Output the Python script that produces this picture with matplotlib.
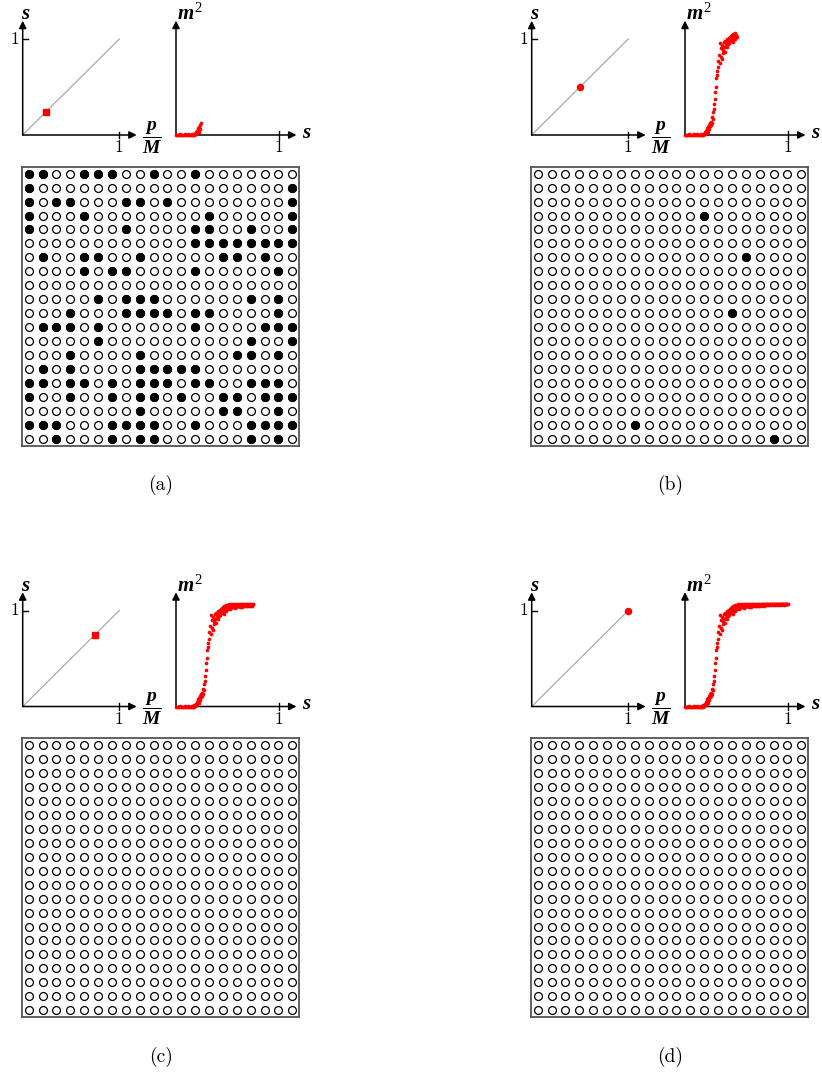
import numpy as np
import matplotlib.pyplot as plt

plt.rcParams['mathtext.fontset'] = 'custom'
plt.rcParams['mathtext.it'] = 'Liberation Serif:italic:bold'
plt.rcParams['mathtext.rm'] = 'Liberation Serif'
plt.rcParams['mathtext.bf'] = 'Liberation Serif:bold'

W, H = 822, 1072

# current value of s (= p/M) in each panel
s_now = [0.24, 0.50, 0.75, 1.00]
dot_marker = ['s', 'o', 's', 'o']
panel_labels = ['(a)', '(b)', '(c)', '(d)']

# m^2 versus s (the other panels show the part s <= s_now)
s_pts = [0.00, 0.01, 0.02, 0.03, 0.04, 0.05, 0.06, 0.07, 0.08, 0.09,
         0.10, 0.11, 0.12, 0.13, 0.14,
         0.150, 0.155, 0.160, 0.165, 0.170, 0.175, 0.180, 0.185, 0.190, 0.195,
         0.200, 0.205, 0.210, 0.215, 0.220, 0.225, 0.230, 0.235, 0.240, 0.245,
         0.250, 0.255, 0.260, 0.265, 0.270, 0.275, 0.280, 0.285, 0.290, 0.295,
         0.300, 0.305, 0.310, 0.315, 0.320, 0.325, 0.330, 0.335, 0.340, 0.345,
         0.350, 0.355, 0.360, 0.365, 0.370, 0.375, 0.380, 0.385, 0.390, 0.395,
         0.400, 0.405, 0.410, 0.415, 0.420, 0.425, 0.430, 0.435, 0.440, 0.445,
         0.450, 0.455, 0.460, 0.465, 0.470, 0.475, 0.480, 0.485, 0.490, 0.495,
         0.500, 0.505, 0.510, 0.515, 0.520, 0.525, 0.530, 0.535, 0.540, 0.545,
         0.550, 0.555, 0.560, 0.565, 0.570, 0.575, 0.580, 0.585, 0.590, 0.595,
         0.600, 0.605, 0.610, 0.615, 0.620, 0.625, 0.630, 0.635, 0.640, 0.645,
         0.650, 0.655, 0.660, 0.665, 0.670, 0.675, 0.680, 0.685, 0.690, 0.695,
         0.700, 0.705, 0.710, 0.715, 0.720, 0.725, 0.730, 0.735, 0.740, 0.745,
         0.750, 0.755, 0.760, 0.765, 0.770, 0.775, 0.780, 0.785, 0.790, 0.795,
         0.800, 0.805, 0.810, 0.815, 0.820, 0.825, 0.830, 0.835, 0.840, 0.845,
         0.850, 0.855, 0.860, 0.865, 0.870, 0.875, 0.880, 0.885, 0.890, 0.895,
         0.900, 0.905, 0.910, 0.915, 0.920, 0.925, 0.930, 0.935, 0.940, 0.945,
         0.950, 0.955, 0.960, 0.965, 0.970, 0.975, 0.980, 0.985, 0.990, 0.995, 1.000]
m2_pts = [0, 0, 0, 0, 0.005, 0, 0, 0, 0, 0.005,
          0, 0, 0.005, 0, 0,
          0, 0.005, 0, 0, 0.01, 0, 0.005, 0.01, 0.025, 0.01,
          0.04, 0.02, 0.05, 0.07, 0.03, 0.08, 0.10, 0.06, 0.12, 0.09,
          0.13, 0.10, 0.17, 0.12, 0.22, 0.16, 0.30, 0.25, 0.42, 0.35,
          0.55, 0.47, 0.62, 0.58, 0.72, 0.66, 0.78, 0.70, 0.89, 0.76,
          0.84, 0.74, 0.87, 0.80, 0.83, 0.90, 0.85, 0.81, 0.91, 0.86,
          0.89, 0.93, 0.85, 0.92, 0.88, 0.94, 0.89, 0.95, 0.91, 0.96,
          0.92, 0.97, 0.94, 0.90, 0.98, 0.93, 0.96, 0.99, 0.93, 0.97,
          0.95, 0.99, 0.96, 1.00, 0.95, 0.98, 1.00, 0.96, 0.99, 0.97,
          0.99, 1.00, 0.97, 0.99, 0.96, 1.00, 0.99, 0.97, 1.00, 0.98,
          0.98, 0.99, 1.00, 0.98, 0.97, 1.00, 0.99, 0.98, 1.00, 0.97,
          1.00, 0.99, 0.98, 1.00, 0.99, 0.98, 1.00, 0.98, 1.00, 0.99,
          0.99, 1.00, 0.98, 0.98, 1.00, 0.99, 1.00, 0.99, 0.98, 1.00,
          1.00, 0.99, 1.00, 0.98, 1.00, 1.00, 0.99, 1.00, 0.99, 1.00,
          1.00, 0.99, 1.00, 1.00, 0.99, 1.00, 1.00, 0.99, 1.00, 1.00,
          0.99, 1.00, 1.00, 1.00, 0.99, 1.00, 1.00, 1.00, 0.99, 1.00,
          1.00, 1.00, 0.99, 1.00, 1.00, 1.00, 1.00, 0.99, 1.00, 1.00,
          1.00, 1.00, 1.00, 0.99, 1.00, 1.00, 1.00, 1.00, 1.00, 1.00, 1.00]

# 20x20 lattice, 1 = filled site
grid_a = ["11001110010010000000",
          "10000000000000000001",
          "10110001101000000001",
          "10001000000001000001",
          "10000001000011001001",
          "00000000000011111111",
          "01001100100000110100",
          "00001011000010000010",
          "00000000000000000000",
          "00000101110000001010",
          "00010001111011000010",
          "01110100000010000111",
          "00000100000000001001",
          "00010000100000011010",
          "01010000111110000000",
          "11011010111011001110",
          "10010010110100110111",
          "00000000100000110010",
          "11100011110010001111",
          "00100010110000001010"]
grid_b_rows = [4, 7, 11, 19, 20]
grid_b_cols = [13, 16, 15, 8, 18]

rows_a, cols_a = [], []
for r, line in enumerate(grid_a):
    for c, ch in enumerate(line):
        if ch == '1':
            rows_a.append(r + 1)
            cols_a.append(c + 1)
filled = [(rows_a, cols_a), (grid_b_rows, grid_b_cols), ([], []), ([], [])]

fig = plt.figure(figsize=(W / 100, H / 100), dpi=100)


def px_axes(x0, y0, x1, y1):
    ax = fig.add_axes([x0 / W, 1 - y1 / H, (x1 - x0) / W, (y1 - y0) / H])
    return ax


def arrow(ax, x, y):
    ax.annotate('', xy=(x, y), xytext=(0, 0),
                arrowprops=dict(arrowstyle='-|>', color='k', lw=1.1,
                                mutation_scale=11, shrinkA=0, shrinkB=0),
                annotation_clip=False)


offx = [0, 509, 0, 509]
offy = [0, 0, 571.5, 571.5]

for k in range(4):
    dx, dy = offx[k], offy[k]

    # s versus p/M
    ox, oy = 22.7 + dx, 135 + dy
    ax = px_axes(ox, oy - 96, ox + 96.6, oy)
    ax.set_xlim(0, 1)
    ax.set_ylim(0, 1)
    ax.axis('off')
    ax.plot([0, 1], [0, 1], color='#aaaaaa', lw=0.9, clip_on=False)
    arrow(ax, 1.18, 0)
    arrow(ax, 0, 1.19)
    ax.plot([1, 1], [-0.035, 0.035], color='k', lw=1, clip_on=False)
    ax.plot([0, 0.05], [1, 1], color='k', lw=1, clip_on=False)
    ax.text(-0.08, 1.0, '1', fontfamily='cmr10', fontsize=12.5, ha='center', va='center')
    ax.text(0.99, -0.13, '1', fontfamily='cmr10', fontsize=12.5, ha='center', va='center')
    ax.text(0.03, 1.27, '$s$', fontsize=15, ha='center', va='center')
    ax.text(1.34, -0.03, r'$\dfrac{p}{M}$', fontsize=14, ha='center', va='center')
    ax.plot([s_now[k]], [s_now[k]], marker=dot_marker[k], color='red',
            markersize=4.4, clip_on=False, zorder=5)

    # m^2 versus s
    ox, oy = 176 + dx, 135 + dy
    ax = px_axes(ox, oy - 103, ox + 103, oy)
    ax.set_xlim(0, 1)
    ax.set_ylim(0, 1)
    ax.axis('off')
    arrow(ax, 1.17, 0)
    arrow(ax, 0, 1.11)
    ax.plot([1, 1], [-0.035, 0.035], color='k', lw=1, clip_on=False)
    ax.text(1.0, -0.12, '1', fontfamily='cmr10', fontsize=12.5, ha='center', va='center')
    ax.text(1.27, 0.03, '$s$', fontsize=15, ha='center', va='center')
    ax.text(0.13, 1.18, '$m^2$', fontsize=15, ha='center', va='center')
    s_arr = np.array(s_pts)
    m_arr = np.array(m2_pts)
    keep = s_arr <= s_now[k] + 1e-9
    ax.scatter(s_arr[keep], m_arr[keep], s=7, color='red', linewidths=0,
               clip_on=False, zorder=4)

    # lattice
    ax = px_axes(21.7 + dx, 166.7 + dy, 299.3 + dx, 445.7 + dy)
    ax.set_xlim(0.5, 20.5)
    ax.set_ylim(20.5, 0.5)
    ax.set_xticks([])
    ax.set_yticks([])
    for sp in ax.spines.values():
        sp.set_color('#555555')
        sp.set_linewidth(1.3)
    cc, rr = np.meshgrid(np.arange(1, 21), np.arange(1, 21))
    ax.scatter(cc.ravel(), rr.ravel(), s=32, facecolors='white',
               edgecolors='black', linewidths=0.9)
    fr, fc = filled[k]
    if len(fr):
        ax.scatter(fc, fr, s=32, facecolors='black', edgecolors='black',
                   linewidths=0.9, zorder=3)

    fig.text((161 + dx) / W, 1 - (485 + dy) / H, panel_labels[k],
             fontfamily='cmr10', fontsize=14, ha='center', va='center')

fig.savefig('out.png', dpi=100)
